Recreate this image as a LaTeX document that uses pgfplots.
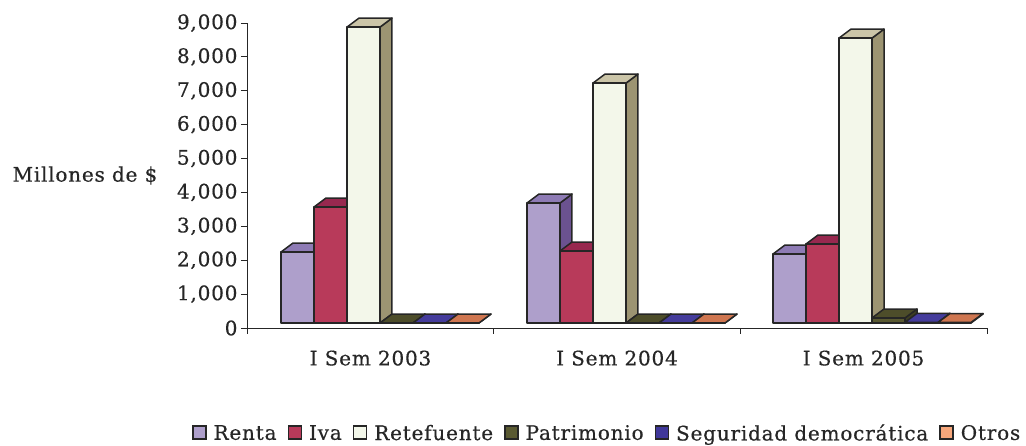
\documentclass[border=0pt]{standalone}
\usepackage{pgfplots}
\pgfplotsset{compat=1.18}
\usepackage{fontspec}
\setmainfont[LetterSpace=4,RawFeature={embolden=0.5}]{DejaVu Serif}
\definecolor{rF}{HTML}{AE9FCB}\definecolor{rT}{HTML}{8E7BB5}\definecolor{rS}{HTML}{6B5290}
\definecolor{iF}{HTML}{B83A5A}\definecolor{iT}{HTML}{98284F}\definecolor{iS}{HTML}{8A2445}
\definecolor{fF}{HTML}{F3F7EA}\definecolor{fT}{HTML}{CBC5A8}\definecolor{fS}{HTML}{9C9472}
\definecolor{pF}{HTML}{5A5A32}\definecolor{pT}{HTML}{4D4D2A}\definecolor{pS}{HTML}{3F3F22}
\definecolor{sF}{HTML}{40389A}\definecolor{sT}{HTML}{453C9C}\definecolor{sS}{HTML}{2E2870}
\definecolor{oF}{HTML}{F7A77B}\definecolor{oT}{HTML}{CF7650}\definecolor{oS}{HTML}{A85C3C}
\definecolor{edge}{HTML}{262626}
% #1 group start, #2 slot, #3 value, #4 colour prefix
\newcommand\Bar[4]{%
  \pgfmathsetmacro\xa{#1+33*#2}\pgfmathsetmacro\xb{\xa+33}%
  \pgfmathsetmacro\xc{\xa+12}\pgfmathsetmacro\xd{\xb+12}%
  \pgfmathsetmacro\ya{147.5}\pgfmathsetmacro\yb{147.5+#3}%
  \pgfmathsetmacro\yc{\ya+265}\pgfmathsetmacro\yd{\yb+265}%
  \addplot[fill=#4S,draw=edge,line width=1.5pt,line join=round,forget plot] coordinates {(\xb,\ya)(\xd,\yc)(\xd,\yd)(\xb,\yb)} --cycle;
  \addplot[fill=#4T,draw=edge,line width=1.5pt,line join=round,forget plot] coordinates {(\xa,\yb)(\xc,\yd)(\xd,\yd)(\xb,\yb)} --cycle;
  \addplot[fill=#4F,draw=edge,line width=1.5pt,line join=round,forget plot] coordinates {(\xa,\ya)(\xa,\yb)(\xb,\yb)(\xb,\ya)} --cycle;
}
\begin{document}
\begin{tikzpicture}[x=1pt,y=1pt]
\useasboundingbox (-247,-118) rectangle (779,328);
\begin{axis}[
  at={(0,0)},anchor=south west,
  width=740pt,height=305pt,scale only axis,
  xmin=0,xmax=740,ymin=0,ymax=9000,
  axis x line=bottom,axis y line=left,
  axis line style={-,line width=0.8pt,color=edge},
  clip=false,
  xtick={123.5,370,616.5},
  xticklabels={I Sem 2003,I Sem 2004,I Sem 2005},
  minor xtick={0,246.7,493.3,740},
  ytick={0,1000,...,9000},
  tick style={color=edge,line width=0.8pt},
  major tick length=6pt,minor tick length=6pt,
  x tick style={draw=none},
  minor x tick style={draw=edge,line width=0.8pt},
  tick align=outside,
  scaled y ticks=false,
  yticklabel style={/pgf/number format/.cd,1000 sep={,},assume math mode=true},
  ticklabel style={font=\fontsize{20}{22}\selectfont,text=black!85},
  xticklabel style={yshift=-13pt},
  ylabel={Millones de \$},
  ylabel style={rotate=-90,font=\fontsize{20}{22}\selectfont,text=black!85,at={(axis description cs:-0.219,0.5)},anchor=center},
  legend columns=-1,
  legend style={at={(axis description cs:1.052,-0.345)},anchor=east,draw=none,fill=none,
    font=\fontsize{20}{22}\selectfont,text=black!85,
    /tikz/every even column/.append style={column sep=9pt},
    /tikz/every odd column/.append style={column sep=5pt}},
  legend image code/.code={\draw[#1,line width=1.5pt] (0pt,-6pt) rectangle (13pt,7pt);},
]
\Bar{34}{0}{2095}{r}\Bar{34}{1}{3422}{i}\Bar{34}{2}{8732}{f}\Bar{34}{3}{0}{p}\Bar{34}{4}{0}{s}\Bar{34}{5}{0}{o}
\Bar{280}{0}{3540}{r}\Bar{280}{1}{2124}{i}\Bar{280}{2}{7080}{f}\Bar{280}{3}{0}{p}\Bar{280}{4}{0}{s}\Bar{280}{5}{0}{o}
\Bar{526}{0}{2035}{r}\Bar{526}{1}{2330}{i}\Bar{526}{2}{8407}{f}\Bar{526}{3}{148}{p}\Bar{526}{4}{20}{s}\Bar{526}{5}{15}{o}
\addlegendimage{fill=rF,draw=edge}\addlegendentry{Renta}
\addlegendimage{fill=iF,draw=edge}\addlegendentry{Iva}
\addlegendimage{fill=fF,draw=edge}\addlegendentry{Retefuente}
\addlegendimage{fill=pF,draw=edge}\addlegendentry{Patrimonio}
\addlegendimage{fill=sF,draw=edge}\addlegendentry{Seguridad democrática\hspace{10pt}}
\addlegendimage{fill=oF,draw=edge}\addlegendentry{Otros}
\end{axis}
\end{tikzpicture}
\end{document}
